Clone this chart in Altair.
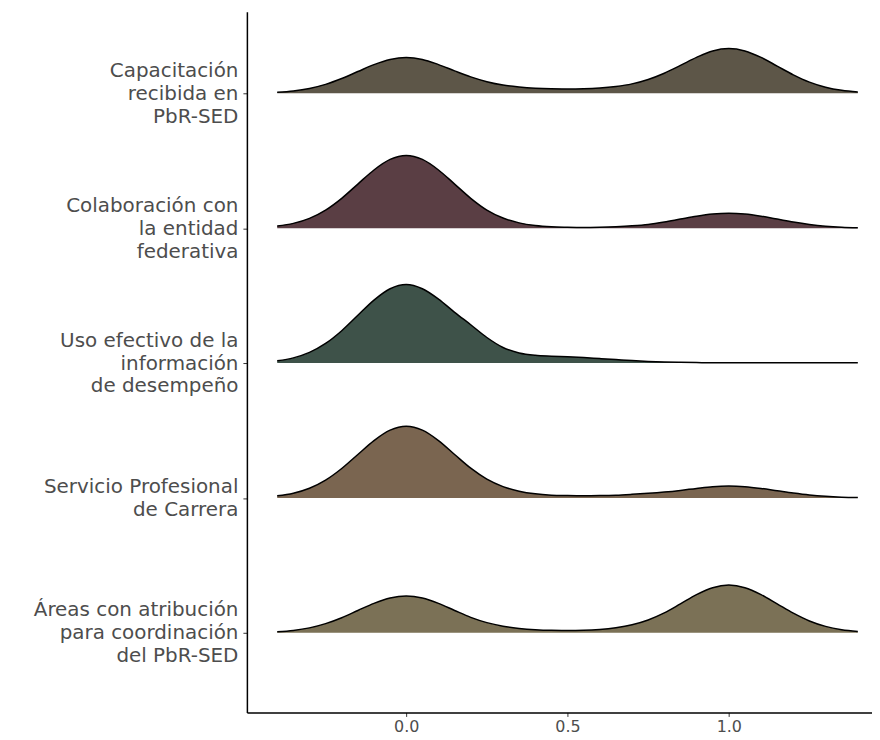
import altair as alt
import pandas as pd

NB = "\u00a0"
categories = ["Capacitación recibida en PbR-SED",
              "Colaboración con la entidad federativa",
              "Uso efectivo de la información de desempeño",
              "Servicio Profesional de Carrera",
              "Áreas con atribución para coordinación del PbR-SED"]
label_lines = [["Capacitación" + NB, "recibida en" + NB, "PbR-SED"],
               ["Colaboración con" + NB, "la entidad" + NB, "federativa"],
               ["Uso efectivo de la" + NB, "información" + NB, "de desempeño"],
               ["Servicio Profesional" + NB, "de Carrera"],
               ["Áreas con atribución" + NB, "para coordinación" + NB, "del PbR-SED"]]
row_pos = [5, 4, 3, 2, 1]
colors = ["#5d5648", "#5a3e44", "#3e5249", "#7a6550", "#7b7156"]

x_grid = [-0.40, -0.35, -0.30, -0.25, -0.20, -0.15, -0.10, -0.05, 0.00, 0.05,
          0.10, 0.15, 0.20, 0.25, 0.30, 0.35, 0.40, 0.45, 0.50, 0.55,
          0.60, 0.65, 0.70, 0.75, 0.80, 0.85, 0.90, 0.95, 1.00, 1.05,
          1.10, 1.15, 1.20, 1.25, 1.30, 1.35, 1.40]

dens_capacitacion = [0.031, 0.070, 0.144, 0.265, 0.438, 0.646, 0.853, 1.007, 1.065, 1.007,
                     0.853, 0.666, 0.488, 0.345, 0.244, 0.185, 0.149, 0.133, 0.129, 0.135,
                     0.157, 0.203, 0.280, 0.411, 0.597, 0.828, 1.066, 1.259, 1.331, 1.259,
                     1.066, 0.808, 0.547, 0.331, 0.180, 0.088, 0.039]
dens_colaboracion = [0.063, 0.143, 0.292, 0.538, 0.888, 1.311, 1.730, 2.043, 2.160, 2.043,
                     1.730, 1.311, 0.888, 0.538, 0.302, 0.158, 0.078, 0.039, 0.026, 0.020,
                     0.028, 0.044, 0.070, 0.111, 0.182, 0.270, 0.356, 0.420, 0.444, 0.420,
                     0.356, 0.270, 0.182, 0.111, 0.060, 0.029, 0.013]
dens_uso = [0.068, 0.154, 0.317, 0.583, 0.962, 1.420, 1.873, 2.210, 2.337, 2.210,
            1.902, 1.509, 1.139, 0.760, 0.464, 0.302, 0.231, 0.204, 0.186, 0.163,
            0.133, 0.104, 0.074, 0.050, 0.033, 0.021, 0.015, 0.009, 0.009, 0.009,
            0.009, 0.009, 0.009, 0.009, 0.009, 0.009, 0.009]
dens_servicio = [0.062, 0.141, 0.288, 0.530, 0.875, 1.293, 1.706, 2.015, 2.130, 2.015,
                 1.706, 1.293, 0.885, 0.560, 0.338, 0.201, 0.122, 0.083, 0.070, 0.064,
                 0.070, 0.083, 0.108, 0.138, 0.176, 0.225, 0.284, 0.336, 0.355, 0.336,
                 0.284, 0.215, 0.146, 0.088, 0.048, 0.023, 0.010]
dens_areas = [0.032, 0.072, 0.148, 0.273, 0.450, 0.665, 0.877, 1.036, 1.095, 1.036,
              0.877, 0.665, 0.460, 0.303, 0.198, 0.132, 0.092, 0.074, 0.070, 0.076,
              0.101, 0.154, 0.242, 0.384, 0.594, 0.862, 1.137, 1.343, 1.420, 1.343,
              1.137, 0.862, 0.584, 0.354, 0.192, 0.094, 0.041]

series = [dens_capacitacion, dens_colaboracion, dens_uso, dens_servicio, dens_areas]

rows = []
for cat, pos, dens in zip(categories, row_pos, series):
    for xv, dv in zip(x_grid, dens):
        rows.append({"cat": cat, "row": pos, "x": xv, "density": dv})
df = pd.DataFrame(rows)

SCALE = 0.2494  # ridge height per density unit, in row units
LH = 23

parts = []
for pos, lines in zip(row_pos, label_lines):
    arr = "[" + ",".join("'" + l + "'" for l in lines) + "]"
    parts.append(f"datum.value == {pos} ? {arr} : ")
label_expr = "".join(parts) + "''"

x_enc = alt.X("x:Q",
              scale=alt.Scale(domain=[-0.494, 1.444], nice=False, zero=False),
              axis=alt.Axis(values=[0, 0.5, 1.0], format=".1f", title=None, grid=False,
                            labelFontSize=16, labelColor="#4d4d4d", labelFont="DejaVu Sans",
                            tickSize=4, tickColor="#333333", domainColor="#000000",
                            domainWidth=1.5, labelPadding=2))
y_enc = alt.Y("top:Q",
              scale=alt.Scale(domain=[0.410, 5.605], nice=False, zero=False),
              axis=alt.Axis(values=row_pos, labelExpr=label_expr, title=None, grid=False,
                            labelFontSize=20, labelColor="#4d4d4d", labelFont="DejaVu Sans",
                            labelLineHeight=LH, labelPadding=5, labelBaseline="middle",
                            labelLimit=400,
                            labelOffset={"condition": {"test": "datum.value == 2", "value": -LH / 2},
                                         "value": -LH},
                            tickSize=4, tickColor="#333333", domainColor="#000000",
                            domainWidth=1.5))

base = alt.Chart(df).transform_calculate(
    top=f"datum.row + datum.density * {SCALE}"
)

area = base.mark_area(interpolate="monotone", opacity=1).encode(
    x=x_enc,
    y=y_enc,
    y2="row:Q",
    color=alt.Color("cat:N", scale=alt.Scale(domain=categories, range=colors), legend=None),
    detail="cat:N",
)

line = base.mark_line(interpolate="monotone", color="black", strokeWidth=1.5).encode(
    x=x_enc,
    y=y_enc,
    detail="cat:N",
)

chart = alt.layer(area, line).properties(
    width=628,
    height=704,
    autosize=alt.AutoSizeParams(type="none"),
    padding={"left": 240, "top": 2, "right": 0, "bottom": 24},
).configure_view(stroke=None)

chart.save("out.html", embed_options={"renderer": "svg", "actions": False})
